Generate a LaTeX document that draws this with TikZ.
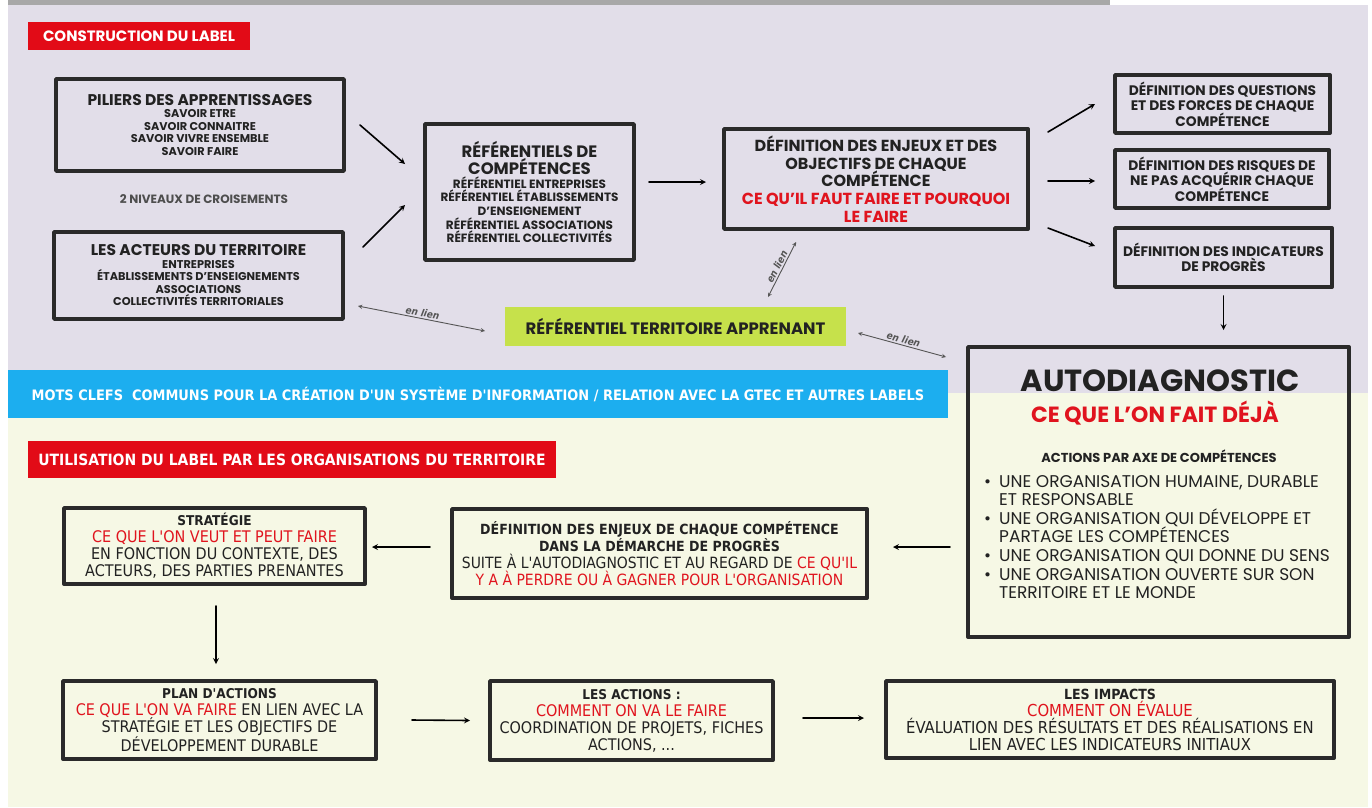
\documentclass[tikz,border=0pt]{standalone}
\usepackage{fontspec}
\setmainfont{Poppins}
\newfontfamily\narrowfont{DejaVu Sans Condensed}
\usetikzlibrary{calc}
\definecolor{lavbg}{HTML}{E2DEE9}
\definecolor{creambg}{HTML}{F6F8E5}
\definecolor{topbar}{HTML}{A8A8A8}
\definecolor{labred}{HTML}{E20B17}
\definecolor{txtred}{HTML}{E0141E}
\definecolor{bandblue}{HTML}{1CAEEF}
\definecolor{refgreen}{HTML}{C6E14B}
\definecolor{boxline}{HTML}{2A2A2A}
\definecolor{txtdark}{HTML}{222222}
\definecolor{lienc}{HTML}{555555}
\newcommand{\fsz}[2]{\fontsize{#1}{#2}\selectfont}
\newcommand{\rt}[1]{\textcolor{txtred}{#1}}

\begin{document}
\begin{tikzpicture}[x=1pt,y=-1pt,line join=round,line cap=round,>=stealth,
	box/.style={draw=boxline,line width=3.8pt,align=center,inner sep=0pt,outer sep=0pt,text=txtdark},
	tag/.style={fill=labred,text=white,inner sep=0pt,outer sep=0pt},
	flow/.style={->,line width=1.6pt},
	lien/.style={<->,draw=lienc,line width=0.9pt},
	lientxt/.style={font=\narrowfont\bfseries\itshape\fsz{10}{11},text=lienc,inner sep=1.5pt}]
	\useasboundingbox (0,0) rectangle (1372,807);
	\fill[white] (0,0) rectangle (1372,807);
	\fill[lavbg] (8,5) rectangle (1368,393);
	\fill[creambg] (8,393) rectangle (1368,807);
	\fill[topbar] (8,0) rectangle (1110,5);

	\node[tag,minimum width=222pt,minimum height=28pt,font=\bfseries\fsz{15}{16}] (lblcons) at (139,36) {CONSTRUCTION DU LABEL};
	\node[box,minimum width=288pt,minimum height=92pt,font=\bfseries\fsz{11.3}{12.5}] (pil) at (200,125)
		{{\fsz{15.5}{16}PILIERS DES APPRENTISSAGES}\\SAVOIR ETRE\\SAVOIR CONNAITRE\\SAVOIR VIVRE ENSEMBLE\\SAVOIR FAIRE};
	\node[font=\bfseries\fsz{12}{13},text=txtdark!80] (croise) at (204,199) {2 NIVEAUX DE CROISEMENTS};
	\node[box,minimum width=289pt,minimum height=87pt,font=\bfseries\fsz{11.3}{12.5}] (act) at (198.5,275.5)
		{{\fsz{15.5}{16}LES ACTEURS DU TERRITOIRE}\\ENTREPRISES\\ÉTABLISSEMENTS D'ENSEIGNEMENTS\\ASSOCIATIONS\\COLLECTIVITÉS TERRITORIALES};
	\node[box,minimum width=209pt,minimum height=136pt,font=\bfseries\fsz{12}{13.7}] (ref) at (529.5,192)
		{{\fsz{16.5}{17}RÉFÉRENTIELS DE}\\{\fsz{16.5}{17}COMPÉTENCES}\\RÉFÉRENTIEL ENTREPRISES\\RÉFÉRENTIEL ÉTABLISSEMENTS\\D'ENSEIGNEMENT\\RÉFÉRENTIEL ASSOCIATIONS\\RÉFÉRENTIEL COLLECTIVITÉS};
	\node[box,minimum width=304pt,minimum height=100pt,font=\bfseries\fsz{16}{17.8}] (enj) at (876,179)
		{DÉFINITION DES ENJEUX ET DES\\OBJECTIFS DE CHAQUE\\COMPÉTENCE\\\rt{CE QU'IL FAUT FAIRE ET POURQUOI}\\\rt{LE FAIRE}};
	\node[box,minimum width=215pt,minimum height=58pt,font=\bfseries\fsz{13.8}{15.5}] (qst) at (1222.5,104)
		{DÉFINITION DES QUESTIONS\\ET DES FORCES DE CHAQUE\\COMPÉTENCE};
	\node[box,minimum width=214pt,minimum height=58pt,font=\bfseries\fsz{13.8}{15.5}] (rsq) at (1222,179)
		{DÉFINITION DES RISQUES DE\\NE PAS ACQUÉRIR CHAQUE\\COMPÉTENCE};
	\node[box,minimum width=217pt,minimum height=59pt,font=\bfseries\fsz{13.8}{15.5}] (ind) at (1223.5,257.5)
		{DÉFINITION DES INDICATEURS\\DE PROGRÈS};
	\node[fill=refgreen,inner sep=0pt,outer sep=0pt,minimum width=341pt,minimum height=39pt,font=\bfseries\fsz{16.5}{17},text=txtdark] (rta) at (675.5,326.5)
		{RÉFÉRENTIEL TERRITOIRE APPRENANT};
	\node[fill=bandblue,inner sep=0pt,outer sep=0pt,minimum width=940pt,minimum height=48pt,text=white,font=\narrowfont\bfseries\fsz{14.4}{15}] (mots) at (478,394)
		{MOTS CLEFS \ COMMUNS POUR LA CRÉATION D'UN SYSTÈME D'INFORMATION / RELATION AVEC LA GTEC ET AUTRES LABELS};
	\node[tag,minimum width=528pt,minimum height=37pt,font=\narrowfont\bfseries\fsz{15.5}{16}] (lblutil) at (292,459.5)
		{UTILISATION DU LABEL PAR LES ORGANISATIONS DU TERRITOIRE};

	\node[box,minimum width=381pt,minimum height=290pt] (auto) at (1158.5,492) {};
	\node[font=\bfseries\fsz{30.5}{32},text=txtdark] (autot) at (1160,381) {AUTODIAGNOSTIC};
	\node[font=\bfseries\fsz{22}{24},text=txtred] (autor) at (1155,413.5) {CE QUE L'ON FAIT DÉJÀ};
	\node[font=\bfseries\fsz{13}{14},text=txtdark] (autoa) at (1159,456) {ACTIONS PAR AXE DE COMPÉTENCES};
	\node[anchor=west,align=left,inner sep=0pt,font=\fsz{17}{18.6},text=txtdark] (autol) at (984,537)
		{\makebox[15pt][l]{\textbullet}UNE ORGANISATION HUMAINE, DURABLE\\\hspace*{15pt}ET RESPONSABLE\\
		\makebox[15pt][l]{\textbullet}UNE ORGANISATION QUI DÉVELOPPE ET\\\hspace*{15pt}PARTAGE LES COMPÉTENCES\\
		\makebox[15pt][l]{\textbullet}UNE ORGANISATION QUI DONNE DU SENS\\
		\makebox[15pt][l]{\textbullet}UNE ORGANISATION OUVERTE SUR SON\\\hspace*{15pt}TERRITOIRE ET LE MONDE};

	\node[box,minimum width=301pt,minimum height=76pt,font=\narrowfont\fsz{16}{17}] (strat) at (214.5,546)
		{{\bfseries\fsz{13.5}{17}STRATÉGIE}\\\rt{CE QUE L'ON VEUT ET PEUT FAIRE}\\EN FONCTION DU CONTEXTE, DES\\ACTEURS, DES PARTIES PRENANTES};
	\node[box,minimum width=415pt,minimum height=89pt,font=\narrowfont\fsz{15.5}{17}] (enjb) at (659.5,553.5)
		{{\bfseries\fsz{14}{17}DÉFINITION DES ENJEUX DE CHAQUE COMPÉTENCE}\\{\bfseries\fsz{14}{17}DANS LA DÉMARCHE DE PROGRÈS}\\SUITE À L'AUTODIAGNOSTIC ET AU REGARD DE \rt{CE QU'IL}\\\rt{Y A À PERDRE OU À GAGNER POUR L'ORGANISATION}};
	\node[box,minimum width=313pt,minimum height=78pt,font=\narrowfont\fsz{16}{17}] (plan) at (219.5,720)
		{{\bfseries\fsz{13.5}{17}PLAN D'ACTIONS}\\\rt{CE QUE L'ON VA FAIRE} EN LIEN AVEC LA\\STRATÉGIE ET LES OBJECTIFS DE\\DÉVELOPPEMENT DURABLE};
	\node[box,minimum width=283pt,minimum height=79pt,font=\narrowfont\fsz{16}{17}] (acts) at (631.5,720.5)
		{{\bfseries\fsz{13.5}{17}LES ACTIONS :}\\\rt{COMMENT ON VA LE FAIRE}\\COORDINATION DE PROJETS, FICHES\\ACTIONS, ...};
	\node[box,minimum width=448pt,minimum height=77pt,font=\narrowfont\fsz{16.5}{17}] (imp) at (1110,719.5)
		{{\bfseries\fsz{14}{17}LES IMPACTS}\\\rt{COMMENT ON ÉVALUE}\\ÉVALUATION DES RÉSULTATS ET DES RÉALISATIONS EN\\LIEN AVEC LES INDICATEURS INITIAUX};

	\draw[flow] ([xshift=16pt]pil.east) -- ([xshift=-20pt,yshift=28pt]ref.west);
	\draw[flow] ([xshift=20pt,yshift=28.5pt]act.east) -- ([xshift=-20pt,yshift=-13pt]ref.west);
	\draw[flow] ([xshift=15pt,yshift=10pt]ref.east) -- ([xshift=-18pt,yshift=-3pt]enj.west);
	\draw[flow] ([xshift=20pt,yshift=47pt]enj.east) -- ([xshift=-20pt]qst.west);
	\draw[flow] ([xshift=20pt,yshift=-2pt]enj.east) -- ([xshift=-20pt,yshift=-2pt]rsq.west);
	\draw[flow] ([xshift=20pt,yshift=-49pt]enj.east) -- ([xshift=-20pt,yshift=11.5pt]ind.west);
	\draw[flow] ([yshift=-9pt]ind.south) -- ($(ind.south |- auto.north)+(0,-17)$);
	\draw[flow] ([xshift=-18pt,yshift=-55pt]auto.west) -- ([xshift=26pt,yshift=6.5pt]enjb.east);
	\draw[flow] ([xshift=-22pt,yshift=6.5pt]enjb.west) -- ([xshift=7pt,yshift=-1pt]strat.east);
	\draw[flow] ([xshift=1.5pt,yshift=-22pt]strat.south) -- ([xshift=-3.5pt,yshift=17pt]plan.north);
	\draw[flow] ([xshift=36pt]plan.east) -- ([xshift=-20pt]acts.west);
	\draw[flow] ([xshift=30pt,yshift=2.5pt]acts.east) -- ([xshift=-22pt,yshift=1.5pt]imp.west);

	\draw[lien] ([xshift=15pt,yshift=-30.5pt]act.east) -- node[lientxt,above,sloped]{en lien} ([xshift=-20pt,yshift=-4.5pt]rta.west);
	\draw[lien] ([xshift=12pt,yshift=-6.5pt]rta.east) -- node[lientxt,above,sloped]{en lien} ([xshift=-22pt,yshift=-10pt]auto.north west);
	\draw[lien] ([xshift=92.5pt,yshift=10pt]rta.north) -- node[lientxt,above,sloped]{en lien} ([xshift=-80pt,yshift=-13pt]enj.south);
\end{tikzpicture}
\end{document}
